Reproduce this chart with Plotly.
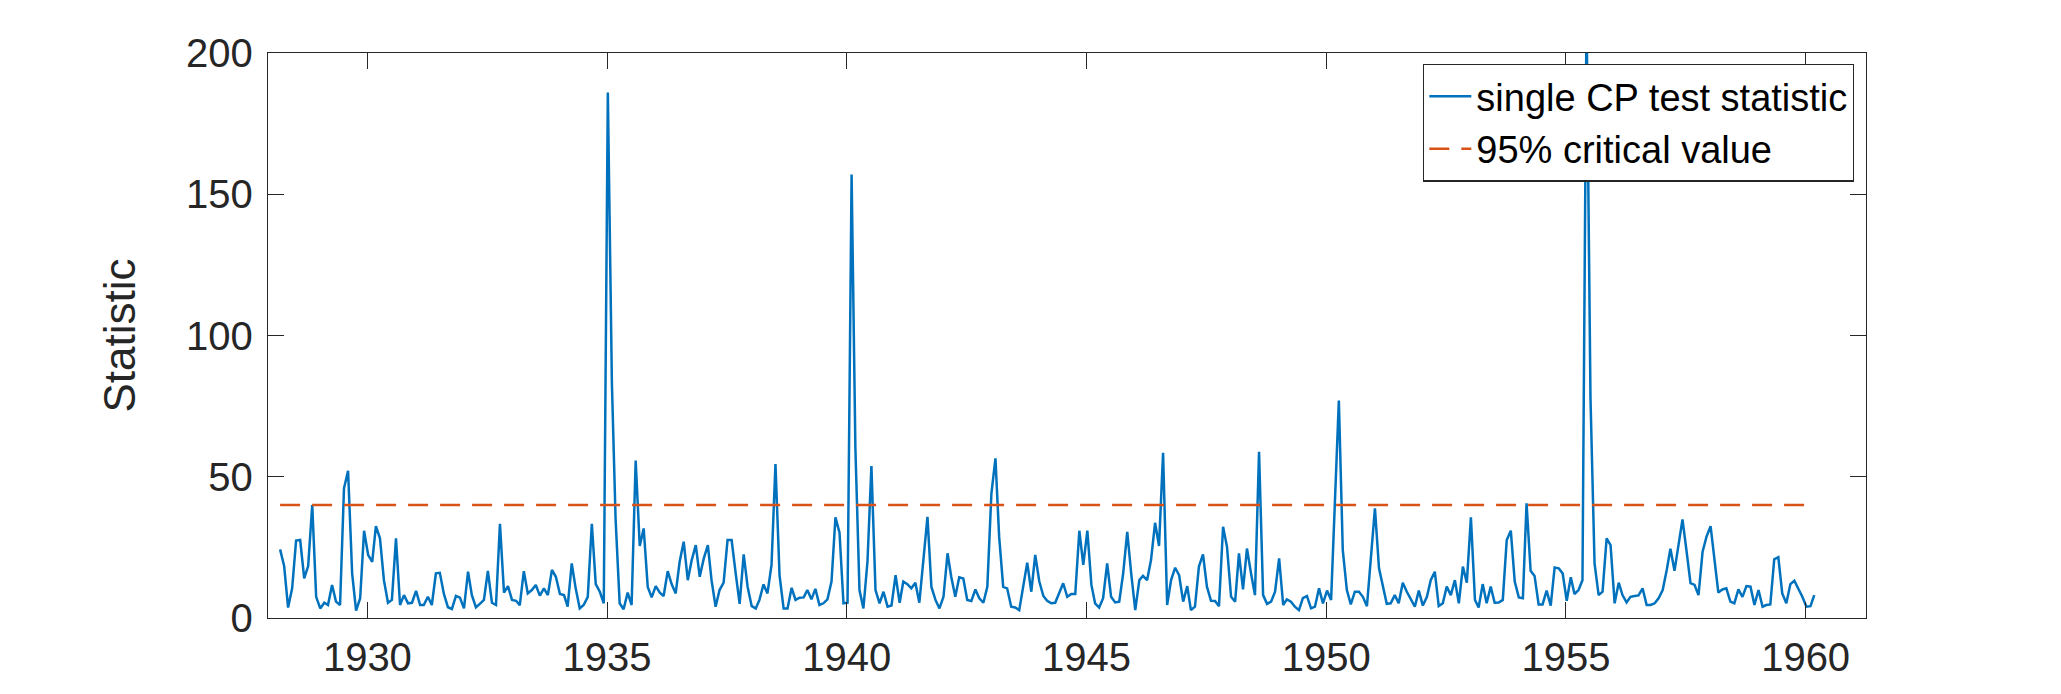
import plotly.graph_objects as go
import pandas as pd

# Monthly single change-point test statistic
start_month = "1928-03-01"
stat_values = [
    24.3, 18.4, 3.7, 10.5, 27.4, 27.6, 14.0, 18.4, 40.0, 7.5,
    3.4, 5.4, 4.6, 11.7, 5.8, 4.6, 45.9, 52.1, 15.8, 2.6,
    7.0, 30.9, 22.3, 19.9, 32.5, 28.2, 13.4, 5.4, 6.4, 28.2,
    4.6, 8.1, 5.2, 5.4, 9.6, 4.6, 4.6, 7.5, 4.6, 15.8,
    16.0, 8.5, 3.8, 3.2, 7.8, 7.2, 3.4, 16.4,
    8.1, 3.8, 5.0, 6.4, 16.7, 5.4, 4.6, 33.3, 9.0, 11.3,
    6.4, 6.1, 4.5, 16.6, 8.7, 9.9, 11.7, 7.9, 10.5, 8.1,
    17.0, 14.6, 8.5, 8.1, 4.0, 19.3, 10.5, 3.4, 4.6, 7.5,
    33.3, 12.0, 9.3, 5.2, 186.0, 83.0, 35.0, 5.2, 3.1, 9.0,
    4.6, 55.7, 25.5, 31.7, 11.0, 7.3, 11.3, 9.0, 7.8, 16.6,
    12.0, 8.7, 19.9, 27.0, 13.4, 20.5, 25.8, 14.6, 21.1, 25.8,
    13.4, 4.0, 9.9, 12.5, 27.6, 27.6, 15.8, 5.0, 22.5, 11.0,
    4.2, 3.4, 6.4, 11.9, 8.7, 18.8, 54.5, 15.2, 3.4, 3.4,
    10.7, 6.4, 7.2, 7.3, 9.9, 6.6, 10.3, 4.6, 5.2, 6.6,
    12.9, 35.6, 30.2, 5.2, 5.4, 157.0, 60.0, 9.9, 3.4, 20.0,
    53.8, 9.9, 5.2, 9.3, 4.0, 4.4, 15.2, 5.4, 12.9, 12.0,
    10.5, 12.5, 5.4, 22.0, 35.8, 11.0, 6.4, 3.4, 7.5, 22.9,
    14.6, 7.5, 14.4, 14.0, 6.4, 6.0, 10.1, 7.0, 5.4, 11.0,
    44.0, 56.5, 28.8, 11.0, 10.5, 4.0, 3.7, 2.8, 11.0, 19.6,
    9.3, 22.3, 12.9, 7.8, 6.1, 5.2, 5.4, 8.7, 12.3, 7.5,
    8.5, 8.5, 30.9, 18.8, 30.9, 11.7, 5.2, 3.7, 7.0, 19.3,
    7.5, 5.5, 5.8, 15.8, 30.5, 15.8, 2.8, 13.4, 14.9, 13.4,
    20.5, 33.7, 25.5, 58.5, 4.6, 13.4, 17.8, 15.2, 5.8, 11.3,
    2.8, 4.0, 18.2, 22.5, 11.1, 6.1, 6.0, 4.2, 32.3, 25.2,
    7.5, 5.8, 22.9, 10.1, 24.6, 15.8, 8.1, 58.8, 8.1, 5.0,
    5.8, 9.3, 21.1, 4.6, 6.6, 5.8, 4.0, 2.8, 7.0, 7.8,
    3.4, 4.0, 10.5, 5.2, 9.7, 6.4, 40.0, 77.0, 24.0, 9.9,
    4.8, 9.3, 9.3, 7.5, 4.2, 20.0, 38.8, 17.6, 11.1, 5.0,
    5.2, 8.1, 5.2, 12.5, 9.3, 6.6, 4.0, 9.7, 4.4, 7.5,
    13.4, 16.4, 4.2, 5.2, 11.1, 8.1, 13.4, 5.2, 18.2, 12.5,
    35.6, 6.4, 3.7, 12.0, 5.2, 11.1, 5.4, 5.5, 6.4, 27.6,
    30.9, 12.9, 7.3, 7.0, 40.6, 16.7, 14.9, 4.8, 4.8, 9.7,
    4.4, 17.9, 17.6, 15.8, 6.1, 14.4, 8.5, 9.9, 13.4, 215.0,
    78.0, 19.3, 8.1, 9.3, 28.2, 25.8, 5.2, 12.5, 8.1, 5.5,
    7.5, 7.8, 8.0, 10.5, 4.6, 4.6, 5.2, 7.0, 9.9, 17.0,
    24.5, 16.7, 25.2, 34.9, 24.0, 12.3, 11.7, 8.1, 23.5, 28.8,
    32.5, 20.5, 9.0, 10.1, 10.5, 5.8, 5.2, 10.1, 7.5, 11.3,
    11.1, 4.6, 9.9, 4.0, 4.6, 4.8, 20.8, 21.5, 8.7, 5.2,
    12.0, 13.2, 10.5, 7.5, 4.0, 4.2, 8.1,
]
critical_value = 40
x_tick_years = [1930, 1935, 1940, 1945, 1950, 1955, 1960]
y_ticks = [0, 50, 100, 150, 200]

dates = pd.date_range(start_month, periods=len(stat_values), freq="MS") + pd.Timedelta(days=6)

FONT = "Liberation Sans, Arial, Helvetica, sans-serif"
AX = "#262626"

fig = go.Figure()
fig.add_trace(go.Scatter(
    x=dates, y=stat_values, mode="lines", name="single CP test statistic",
    line=dict(color="#0072BD", width=2.5),
))
fig.add_trace(go.Scatter(
    x=[dates[0], dates[-1]], y=[critical_value, critical_value], mode="lines",
    name="95% critical value",
    line=dict(color="#D95319", width=2.5, dash="20px,12px"),
))

# page body has an 8px margin, so the figure is sized to fit the window from (8, 8)
fig.update_layout(
    width=2053, height=686,
    margin=dict(l=260, r=195, t=45, b=76),
    paper_bgcolor="white", plot_bgcolor="white",
    font=dict(family=FONT, color=AX),
    showlegend=True,
    legend=dict(
        x=0.9925, y=0.981, xanchor="right", yanchor="top",
        bgcolor="white", bordercolor=AX, borderwidth=1.3,
        font=dict(family=FONT, size=38, color="black"),
        tracegroupgap=0, itemwidth=42,
    ),
)
fig.update_xaxes(
    type="date",
    range=["1927-12-06", "1961-04-05"],
    tickvals=[f"{y}-01-01" for y in x_tick_years],
    ticktext=[str(y) for y in x_tick_years],
    ticks="inside", ticklen=16, tickwidth=1.3, tickcolor=AX,
    showline=True, linecolor=AX, linewidth=1.3, mirror="ticks",
    showgrid=False, zeroline=False,
    ticklabelstandoff=4,
    tickfont=dict(family=FONT, size=40, color=AX),
)
fig.update_yaxes(
    range=[0, 200],
    tickvals=y_ticks,
    ticks="inside", ticklen=16, tickwidth=1.3, tickcolor=AX,
    showline=True, linecolor=AX, linewidth=1.3, mirror="ticks",
    showgrid=False, zeroline=False,
    ticklabelstandoff=6,
    tickfont=dict(family=FONT, size=40, color=AX),
    title=dict(text="Statistic", font=dict(family=FONT, size=44, color=AX), standoff=36),
)

fig.write_html("out.html")
